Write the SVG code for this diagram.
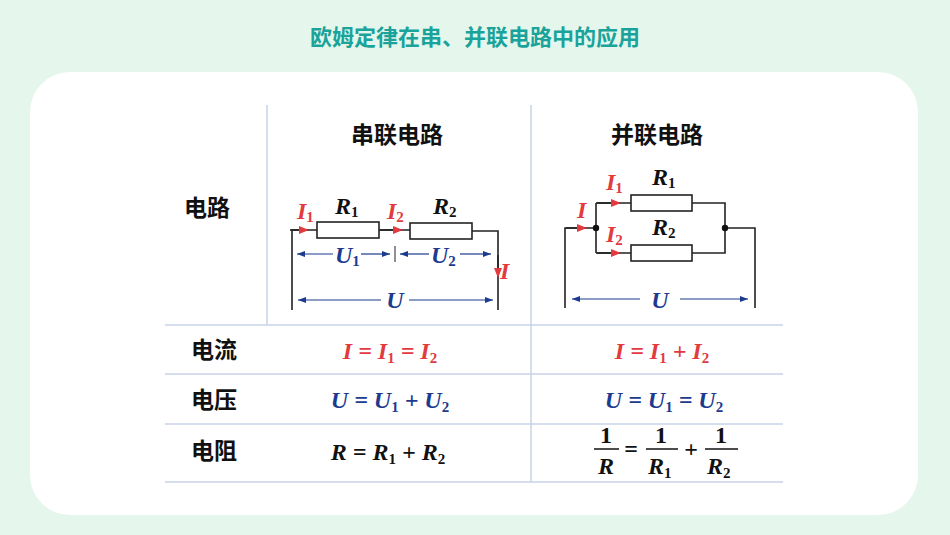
<svg xmlns="http://www.w3.org/2000/svg" width="950" height="535" viewBox="0 0 950 535">
<defs>
<style>
.cn{font-family:"Noto Sans CJK SC","Noto Sans",sans-serif;font-weight:bold;fill:#111}
.m{font-family:"Liberation Serif",serif;font-weight:bold;font-style:italic;font-size:24px}
.s{font-size:15px;font-style:normal}
.n{font-style:normal}
.r{fill:#e23a3f}.b{fill:#1c3b8f}.k{fill:#111}
.w{stroke:#222;stroke-width:1.6;fill:none}
.res{stroke:#222;stroke-width:1.6;fill:#fff}
.g{stroke:#c9d2e6;stroke-width:1.5}
.ua{stroke:#1c3b8f;stroke-width:1.2;fill:none}
</style>
<marker id="ra" markerWidth="10" markerHeight="8" refX="9" refY="4" orient="auto" markerUnits="userSpaceOnUse"><path d="M0,0L10,4L0,8z" fill="#e23a3f"/></marker>
<marker id="ba" markerWidth="8" markerHeight="6" refX="8" refY="3" orient="auto-start-reverse" markerUnits="userSpaceOnUse"><path d="M0,0L8,3L0,6z" fill="#1c3b8f"/></marker>
</defs>
<rect width="950" height="535" fill="#e5f7ed"/>
<text x="475" y="45" text-anchor="middle" font-family="Noto Sans CJK SC,sans-serif" font-weight="bold" font-size="22" fill="#1aa39a">欧姆定律在串、并联电路中的应用</text>
<rect x="30" y="72" width="888" height="443" rx="40" fill="#fff"/>
<g id="grid">
<line class="g" x1="267" y1="105" x2="267" y2="325"/>
<line class="g" x1="531" y1="105" x2="531" y2="482"/>
<line class="g" x1="165" y1="325" x2="783" y2="325"/>
<line class="g" x1="165" y1="374" x2="783" y2="374"/>
<line class="g" x1="165" y1="424" x2="783" y2="424"/>
<line class="g" x1="165" y1="482" x2="783" y2="482"/>
</g>
<g id="labels" font-size="23">
<text class="cn" x="397" y="143" text-anchor="middle">串联电路</text>
<text class="cn" x="657" y="143" text-anchor="middle">并联电路</text>
<text class="cn" x="207" y="216" text-anchor="middle">电路</text>
<text class="cn" x="214" y="358" text-anchor="middle">电流</text>
<text class="cn" x="214" y="408" text-anchor="middle">电压</text>
<text class="cn" x="214" y="459" text-anchor="middle">电阻</text>
</g>
<g id="series">
<g class="connectors">
<path class="w" d="M292,310V230H317M379,230H410M472,231H498V310"/>
<line x1="290" y1="230" x2="308" y2="230" stroke="#222" stroke-width="1.6" marker-end="url(#ra)"/>
<line x1="380" y1="230" x2="402" y2="230" stroke="#222" stroke-width="1.6" marker-end="url(#ra)"/>
<line x1="498" y1="255" x2="498" y2="277" stroke="#222" stroke-width="1.6" marker-end="url(#ra)"/>
<line class="ua" x1="297" y1="254" x2="333" y2="254" marker-start="url(#ba)"/>
<line class="ua" x1="361" y1="254" x2="390" y2="254" marker-end="url(#ba)"/>
<line x1="395" y1="246" x2="395" y2="262" stroke="#222" stroke-width="1"/>
<line class="ua" x1="400" y1="254" x2="429" y2="254" marker-start="url(#ba)"/>
<line class="ua" x1="460" y1="254" x2="491" y2="254" marker-end="url(#ba)"/>
<line class="ua" x1="298" y1="300" x2="381" y2="300" marker-start="url(#ba)"/>
<line class="ua" x1="409" y1="300" x2="493" y2="300" marker-end="url(#ba)"/>
</g>
<rect class="res" x="317" y="222" width="62" height="16"/>
<rect class="res" x="410" y="223" width="62" height="16"/>
<text class="m r" x="297" y="219">I<tspan class="s" dy="3">1</tspan></text>
<text class="m k" x="335" y="214">R<tspan class="s" dy="3">1</tspan></text>
<text class="m r" x="387" y="219">I<tspan class="s" dy="3">2</tspan></text>
<text class="m k" x="433" y="214">R<tspan class="s" dy="3">2</tspan></text>
<text class="m r" x="500" y="279">I</text>
<text class="m b" x="335" y="263">U<tspan class="s" dy="3">1</tspan></text>
<text class="m b" x="431" y="263">U<tspan class="s" dy="3">2</tspan></text>
<text class="m b" x="395" y="308" text-anchor="middle">U</text>
</g>
<g id="parallel">
<g class="connectors">
<path class="w" d="M565,308V228H596M596,203V253M596,203H631M692,203H725V253H692M596,253H631M725,228H755V308"/>
<line x1="566" y1="228" x2="586" y2="228" stroke="#222" stroke-width="1.6" marker-end="url(#ra)"/>
<line x1="597" y1="203" x2="620" y2="203" stroke="#222" stroke-width="1.6" marker-end="url(#ra)"/>
<line x1="597" y1="253" x2="620" y2="253" stroke="#222" stroke-width="1.6" marker-end="url(#ra)"/>
<line class="ua" x1="572" y1="299" x2="640" y2="299" marker-start="url(#ba)"/>
<line class="ua" x1="680" y1="299" x2="748" y2="299" marker-end="url(#ba)"/>
</g>
<circle cx="596" cy="228" r="3.2" fill="#111"/>
<circle cx="725" cy="228" r="3.2" fill="#111"/>
<rect class="res" x="631" y="195" width="61" height="16"/>
<rect class="res" x="631" y="245" width="61" height="16"/>
<text class="m r" x="606" y="190">I<tspan class="s" dy="3">1</tspan></text>
<text class="m k" x="652" y="185">R<tspan class="s" dy="3">1</tspan></text>
<text class="m r" x="577" y="218">I</text>
<text class="m r" x="606" y="242">I<tspan class="s" dy="3">2</tspan></text>
<text class="m k" x="652" y="235">R<tspan class="s" dy="3">2</tspan></text>
<text class="m b" x="660" y="308" text-anchor="middle">U</text>
</g>
<g id="formulas">
<text class="m r" x="390" y="359" text-anchor="middle">I = I<tspan class="s" dy="4">1</tspan><tspan dy="-4"> = I</tspan><tspan class="s" dy="4">2</tspan></text>
<text class="m r" x="662" y="359" text-anchor="middle">I = I<tspan class="s" dy="4">1</tspan><tspan dy="-4"> + I</tspan><tspan class="s" dy="4">2</tspan></text>
<text class="m b" x="390" y="408" text-anchor="middle">U = U<tspan class="s" dy="4">1</tspan><tspan dy="-4"> + U</tspan><tspan class="s" dy="4">2</tspan></text>
<text class="m b" x="664" y="408" text-anchor="middle">U = U<tspan class="s" dy="4">1</tspan><tspan dy="-4"> = U</tspan><tspan class="s" dy="4">2</tspan></text>
<text class="m k" x="388" y="460" text-anchor="middle">R = R<tspan class="s" dy="4">1</tspan><tspan dy="-4"> + R</tspan><tspan class="s" dy="4">2</tspan></text>
<text class="m k n" x="606" y="443" text-anchor="middle">1</text>
<line x1="594" y1="449" x2="619" y2="449" stroke="#111" stroke-width="1.5"/>
<text class="m k" x="606" y="474" text-anchor="middle">R</text>
<text class="m k n" x="631" y="457" text-anchor="middle">=</text>
<text class="m k n" x="661" y="443" text-anchor="middle">1</text>
<line x1="646" y1="449" x2="678" y2="449" stroke="#111" stroke-width="1.5"/>
<text class="m k" x="648" y="474">R<tspan class="s" dy="4">1</tspan></text>
<text class="m k n" x="691" y="457" text-anchor="middle">+</text>
<text class="m k n" x="721" y="443" text-anchor="middle">1</text>
<line x1="705" y1="449" x2="738" y2="449" stroke="#111" stroke-width="1.5"/>
<text class="m k" x="707" y="474">R<tspan class="s" dy="4">2</tspan></text>
</g>
</svg>
